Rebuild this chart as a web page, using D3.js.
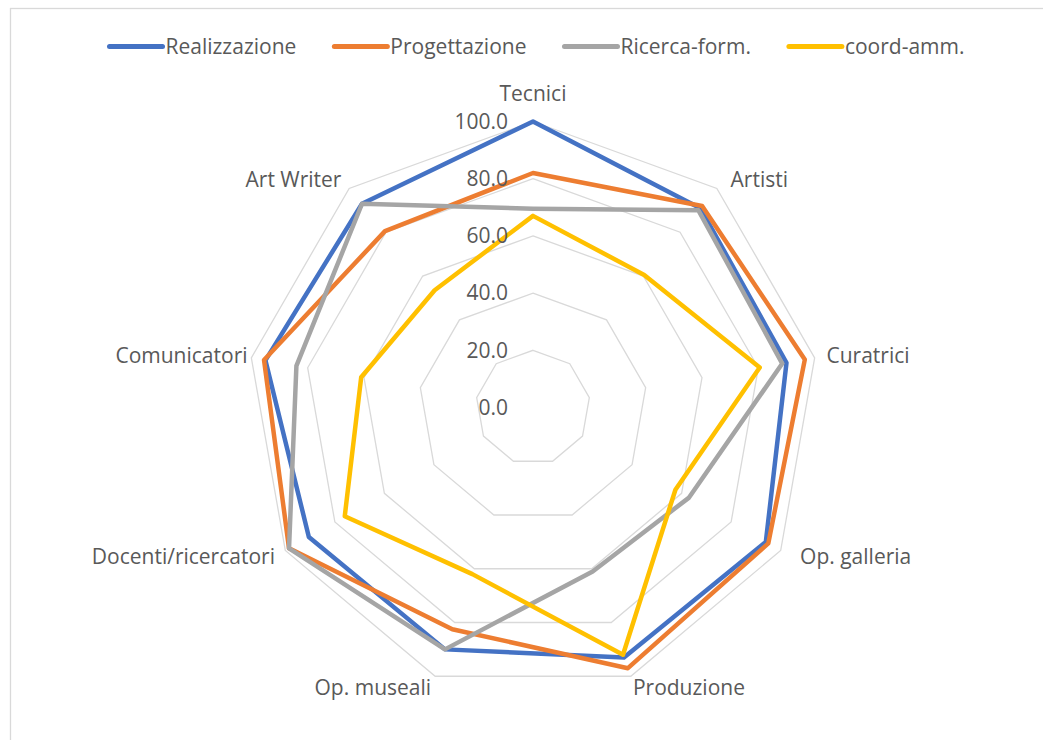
<!DOCTYPE html>
<html>
<head>
<meta charset="utf-8">
<script src="https://cdn.jsdelivr.net/npm/d3@7"></script>
<style>
  body { margin: 0; background: #fff; }
  svg { display: block; }
  text { font-family: "Open Sans", sans-serif; fill: #595959; }
</style>
</head>
<body>
<svg id="chart" width="1043" height="740"></svg>
<script>
// Profili professionali (assi del radar, in senso orario dall'alto)
const categories = [
  "Tecnici", "Artisti", "Curatrici", "Op. galleria", "Produzione",
  "Op. museali", "Docenti/ricercatori", "Comunicatori", "Art Writer"
];

const seriesNames = ["Realizzazione", "Progettazione", "Ricerca-form.", "coord-amm."];

const realizzazione = [100, 91, 90, 94, 93, 90, 90.5, 95, 93];
const progettazione = [82, 92, 96.5, 95, 97, 82.5, 98.5, 95.5, 80.5];
const ricercaForm   = [69.5, 90, 88.5, 63, 61, 90, 98.5, 84, 93];
const coordAmm      = [67, 60.5, 80.5, 57.5, 92, 62, 76, 61, 53.5];

const tickValues = [0, 20, 40, 60, 80, 100];

const seriesColors = ["#4472C4", "#ED7D31", "#A5A5A5", "#FFC000"];

const series = [realizzazione, progettazione, ricercaForm, coordAmm].map((values, i) => ({
  name: seriesNames[i],
  color: seriesColors[i],
  values
}));

const svg = d3.select("#chart");
const width = 1043, height = 740;
const cx = 533, cy = 407.5, radius = 286;
const fontSize = 21;

// Chart frame
svg.append("rect")
  .attr("x", 10.5).attr("y", 8.5)
  .attr("width", width + 20).attr("height", height + 20)
  .attr("fill", "none").attr("stroke", "#d9d9d9").attr("stroke-width", 1.3);

const r = d3.scaleLinear().domain([0, 100]).range([0, radius]);
const angle = d3.scaleLinear().domain([0, categories.length]).range([0, 2 * Math.PI]);

const plot = svg.append("g").attr("transform", `translate(${cx},${cy})`);

// Polygonal gridlines
const gridLine = d3.lineRadial()
  .angle((d, i) => angle(i))
  .radius(d => r(d))
  .curve(d3.curveLinearClosed);

plot.append("g").selectAll("path")
  .data(tickValues.filter(t => t > 0))
  .join("path")
  .attr("d", t => gridLine(categories.map(() => t)))
  .attr("fill", "none")
  .attr("stroke", "#d9d9d9")
  .attr("stroke-width", 1.3);

// Series polygons
const seriesLine = d3.lineRadial()
  .angle((d, i) => angle(i))
  .radius(d => r(d))
  .curve(d3.curveLinearClosed);

plot.append("g").selectAll("path")
  .data(series)
  .join("path")
  .attr("d", s => seriesLine(s.values))
  .attr("fill", "none")
  .attr("stroke", s => s.color)
  .attr("stroke-width", 4.5)
  .attr("stroke-linejoin", "round");

// Radial axis tick labels
const fmt = d3.format(".1f");
plot.append("g").selectAll("text")
  .data(tickValues)
  .join("text")
  .attr("x", -25)
  .attr("y", t => -r(t))
  .attr("dy", "0.35em")
  .attr("text-anchor", "end")
  .attr("font-size", fontSize)
  .text(t => fmt(t));

// Category labels, with a small horizontal nudge for a few axes
const labelRadius = radius + 12;
const labelNudge = { "Artisti": 6, "Op. galleria": 9, "Comunicatori": 8, "Produzione": -2 };
plot.append("g").selectAll("text")
  .data(categories)
  .join("text")
  .each(function (d, i) {
    const a = angle(i);
    const s = Math.sin(a), c = Math.cos(a);
    let x = labelRadius * s + (labelNudge[d] || 0);
    let y = -labelRadius * c;
    let anchor = "middle";
    if (s > 0.1) anchor = "start";
    else if (s < -0.1) anchor = "end";
    if (Math.abs(s) <= 0.1) y -= c * 16;
    d3.select(this)
      .attr("x", x)
      .attr("y", y)
      .attr("dy", "0.35em")
      .attr("text-anchor", anchor)
      .attr("font-size", fontSize)
      .text(d);
  });

// Legend
const legend = svg.append("g").attr("transform", "translate(0,46.5)");
const swatch = 53, swGap = 3, itemGap = 38;
const items = legend.selectAll("g").data(series).join("g");
items.append("line")
  .attr("x1", 0).attr("x2", swatch)
  .attr("y1", 0).attr("y2", 0)
  .attr("stroke", d => d.color)
  .attr("stroke-width", 5)
  .attr("stroke-linecap", "round");
items.append("text")
  .attr("x", swatch + swGap)
  .attr("dy", "0.35em")
  .attr("font-size", fontSize)
  .text(d => d.name);

let offsets = [], total = 0;
items.each(function () {
  const w = swatch + swGap + this.querySelector("text").getComputedTextLength();
  offsets.push(total);
  total += w + itemGap;
});
total -= itemGap;
const startX = 537 - total / 2;
items.attr("transform", (d, i) => `translate(${startX + offsets[i]},0)`);
</script>
</body>
</html>
